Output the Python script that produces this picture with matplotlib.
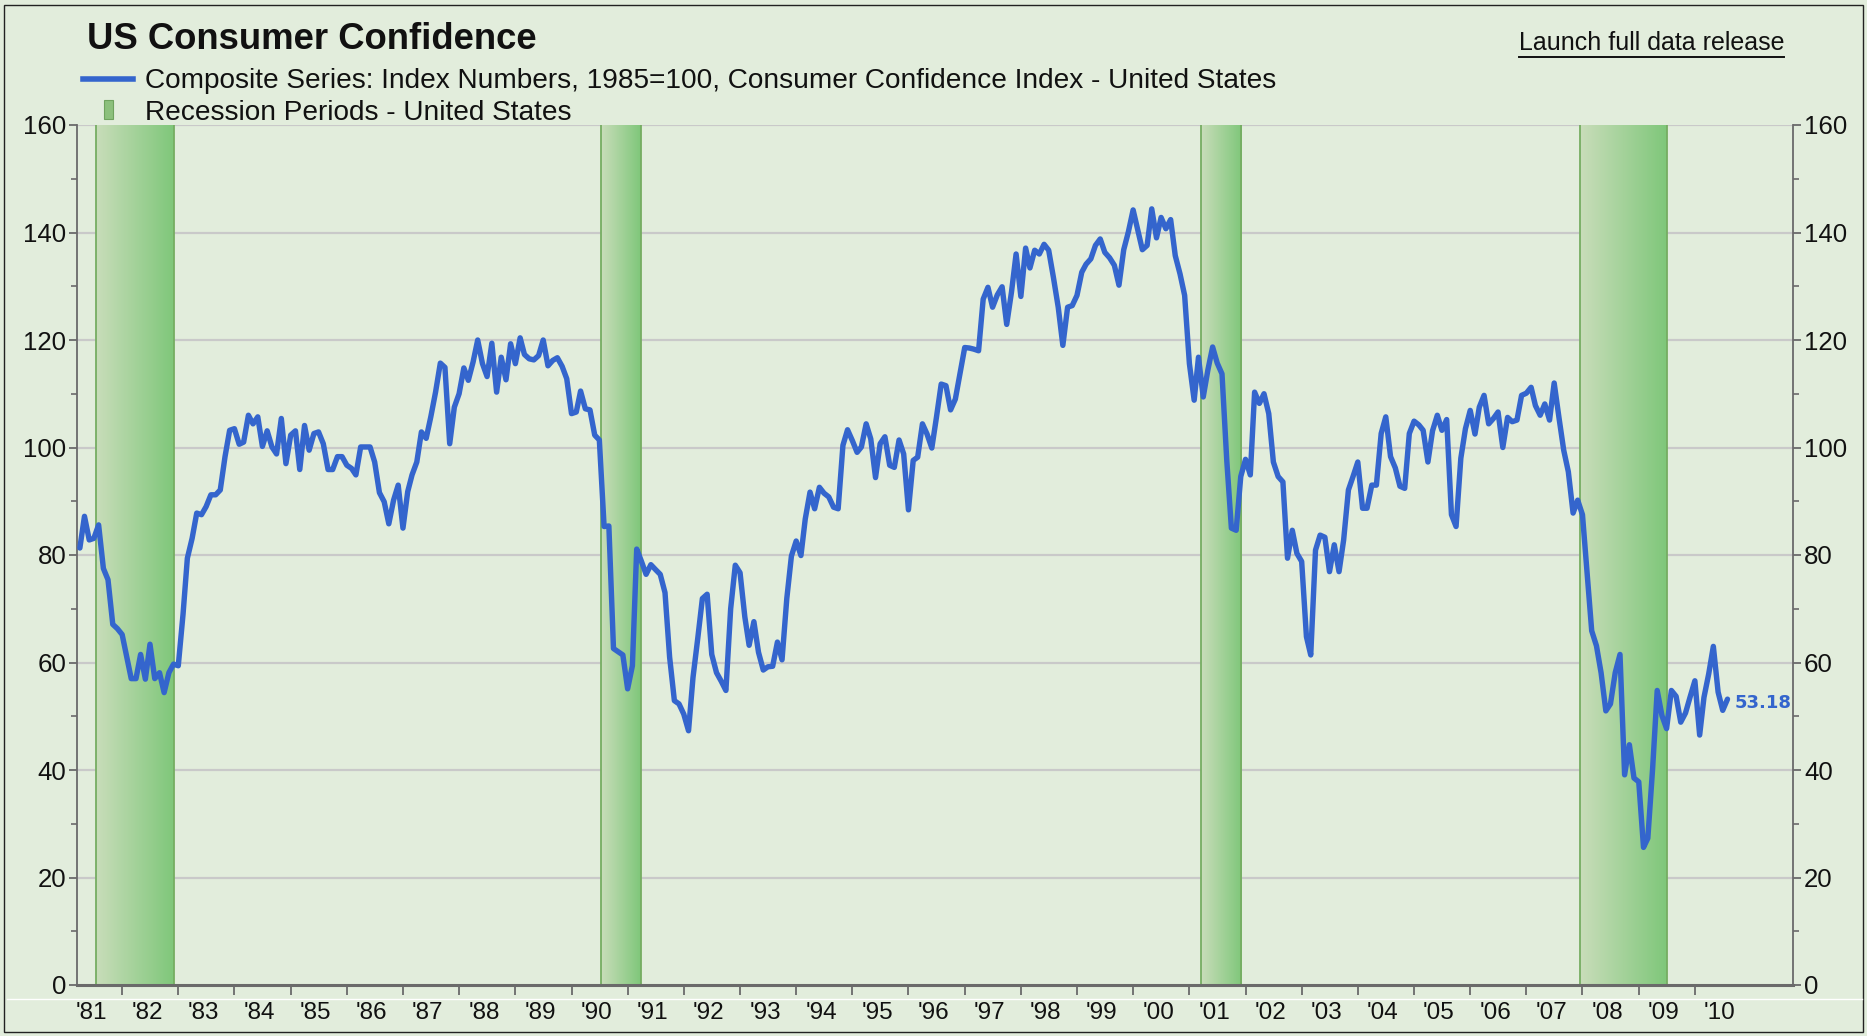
import numpy as np
import pandas as pd
import matplotlib
matplotlib.use("Agg")
import matplotlib.pyplot as plt
import matplotlib.dates as mdates
from matplotlib.colors import LinearSegmentedColormap
from matplotlib.patches import Rectangle
from matplotlib.lines import Line2D
from matplotlib.ticker import FixedLocator, FixedFormatter, MultipleLocator

plt.rcParams['font.family'] = ['Liberation Sans', 'DejaVu Sans']

# ---------------- data ----------------
title = "US Consumer Confidence"
series_label = "Composite Series: Index Numbers, 1985=100, Consumer Confidence Index - United States"
recession_label = "Recession Periods - United States"
link_label = "Launch full data release"

first_month = "1981-04-01"   # monthly values from here
confidence = [
    81.3, 87.2, 82.8, 83.1, 85.6, 77.5, 75.4, 67.1, 66.3, 65.2, 60.9, 57.0,
    57.0, 61.5, 56.9, 63.4, 57.0, 58.1, 54.4, 58.1, 59.7, 59.4, 69.0, 79.4,
    83.1, 87.8, 87.5, 89.0, 91.2, 91.2, 92.1, 98.3, 103.2, 103.5, 100.6, 101.0,
    106.0, 104.4, 105.7, 100.2, 103.1, 100.1, 98.8, 105.4, 97.0, 102.3, 103.1, 95.9,
    104.1, 99.5, 102.6, 102.9, 100.7, 95.9, 95.9, 98.3, 98.3, 96.7, 96.1, 94.9,
    100.1, 100.1, 100.1, 97.3, 91.6, 89.9, 85.8, 90.2, 93.0, 85.0, 91.8, 94.9,
    97.3, 102.9, 101.7, 105.7, 110.3, 115.7, 114.9, 100.7, 107.5, 110.0, 114.8, 112.5,
    115.9, 120.0, 115.6, 113.2, 119.4, 110.3, 116.8, 112.6, 119.3, 115.6, 120.4, 117.3,
    116.5, 116.3, 117.1, 120.0, 115.2, 116.2, 116.7, 115.1, 112.8, 106.3, 106.6, 110.5,
    107.2, 107.0, 102.3, 101.4, 85.3, 85.4, 62.6, 62.0, 61.4, 55.1, 59.4, 81.1,
    78.8, 76.4, 78.2, 77.3, 76.4, 73.0, 61.0, 52.9, 52.3, 50.4, 47.3, 57.2,
    64.5, 71.9, 72.7, 61.5, 58.1, 56.5, 54.8, 70.0, 78.1, 76.7, 68.5, 63.2,
    67.6, 61.9, 58.6, 59.2, 59.3, 63.8, 60.5, 71.9, 79.8, 82.6, 79.9, 86.7,
    91.7, 88.6, 92.6, 91.5, 90.8, 88.9, 88.6, 100.4, 103.3, 101.3, 99.1, 100.1,
    104.4, 101.6, 94.4, 100.7, 102.0, 96.7, 96.3, 101.4, 98.8, 88.4, 97.6, 98.2,
    104.4, 102.5, 99.9, 105.6, 111.8, 111.5, 107.0, 109.0, 113.7, 118.6, 118.5, 118.3,
    118.0, 127.6, 129.8, 126.1, 128.4, 129.9, 122.9, 128.9, 136.0, 128.1, 137.1, 133.4,
    136.7, 136.0, 137.8, 136.7, 131.6, 126.1, 119.0, 126.1, 126.4, 128.3, 132.6, 134.1,
    135.1, 137.6, 138.8, 136.3, 135.3, 133.9, 130.2, 136.8, 140.1, 144.2, 140.4, 136.8,
    137.6, 144.4, 139.0, 142.8, 140.7, 142.4, 135.7, 132.3, 128.3, 115.6, 108.8, 116.8,
    109.4, 114.4, 118.7, 115.7, 113.7, 97.6, 85.0, 84.6, 94.6, 97.8, 94.9, 110.3,
    108.2, 110.0, 106.3, 97.3, 94.6, 93.6, 79.4, 84.6, 80.3, 78.8, 64.8, 61.4,
    80.9, 83.7, 83.3, 76.9, 81.9, 76.9, 82.8, 92.1, 94.6, 97.3, 88.7, 88.7,
    93.0, 93.0, 102.6, 105.7, 98.3, 96.2, 92.8, 92.4, 102.6, 104.9, 104.2, 103.2,
    97.3, 103.1, 106.0, 103.2, 105.2, 87.5, 85.3, 98.0, 103.5, 106.9, 102.5, 107.5,
    109.7, 104.4, 105.4, 106.6, 100.0, 105.6, 104.8, 105.1, 109.7, 110.1, 111.2, 107.8,
    106.0, 108.1, 105.1, 112.0, 105.6, 99.5, 95.5, 87.8, 90.2, 87.5, 76.4, 65.9,
    63.1, 58.1, 51.0, 52.3, 58.1, 61.5, 39.1, 44.7, 38.5, 37.8, 25.6, 27.3,
    40.2, 54.8, 50.1, 47.7, 54.8, 53.7, 48.9, 50.6, 53.6, 56.6, 46.5, 53.5,
    57.9, 63.0, 54.5, 51.1, 53.18,
]

recession_starts = ["1981-07-15", "1990-07-15", "2001-03-15", "2007-12-15"]
recession_ends = ["1982-12-01", "1991-04-01", "2001-12-01", "2009-07-01"]

year_labels = ["'81", "'82", "'83", "'84", "'85", "'86", "'87", "'88", "'89", "'90",
               "'91", "'92", "'93", "'94", "'95", "'96", "'97", "'98", "'99", "'00",
               "'01", "'02", "'03", "'04", "'05", "'06", "'07", "'08", "'09", "'10"]
label_years = list(range(1981, 2011))
tick_years = list(range(1982, 2011))
y_ticks = [0, 20, 40, 60, 80, 100, 120, 140, 160]

# ---------------- style ----------------
W, H = 1867, 1036
bg = "#E2EDDC"
line_color = "#3465CD"
grid_color = "#C9C9C9"
axis_color = "#6A6A6A"
band_left = "#C9DDBA"
band_right = "#7FC77A"
band_edge = "#76AD62"

def fx(px):
    return px / W

def fy(py):
    return 1 - py / H

fig = plt.figure(figsize=(W / 100, H / 100), dpi=100)
fig.patch.set_facecolor(bg)

left_px, right_px, top_px, bottom_px = 77.4, 1793, 125, 985
ax = fig.add_axes([fx(left_px), fy(bottom_px), (right_px - left_px) / W, (bottom_px - top_px) / H])
ax.set_facecolor(bg)

dates = pd.date_range(first_month, periods=len(confidence), freq="MS")
xnum = mdates.date2num(dates)

xmin = mdates.date2num(pd.Timestamp("1981-03-16"))
xmax = mdates.date2num(pd.Timestamp("2011-10-01"))

# recession bands with horizontal gradient
cmap = LinearSegmentedColormap.from_list("band", [band_left, band_right])
grad = np.linspace(0, 1, 256).reshape(1, -1)
for s, e in zip(recession_starts, recession_ends):
    x0 = mdates.date2num(pd.Timestamp(s))
    x1 = mdates.date2num(pd.Timestamp(e))
    ax.imshow(grad, extent=[x0, x1, 0, 160], aspect="auto", cmap=cmap,
              zorder=1.5, interpolation="bilinear")
    for xe in (x0, x1):
        ax.plot([xe, xe], [0, 160], color=band_edge, lw=1.3, zorder=1.6)

# series line
ax.plot(xnum, confidence, color=line_color, lw=3.9, zorder=3,
        solid_joinstyle="round", solid_capstyle="round")

ax.set_xlim(xmin, xmax)
ax.set_ylim(0, 160)

# grid
ax.set_axisbelow(True)
for v in y_ticks[1:]:
    ax.axhline(v, color=grid_color, lw=1.6, zorder=0.5)

# spines
ax.spines["top"].set_visible(False)
for side in ("left", "right"):
    ax.spines[side].set_color(axis_color)
    ax.spines[side].set_linewidth(1.3)
ax.spines["bottom"].set_color(axis_color)
ax.spines["bottom"].set_linewidth(2.2)
ax.spines["bottom"].set_zorder(4)

# y axis on both sides
ax.yaxis.set_major_locator(FixedLocator(y_ticks))
ax.yaxis.set_minor_locator(MultipleLocator(10))
ax.tick_params(axis="y", which="major", left=True, right=True, labelleft=True,
               labelright=True, length=6, width=1.3, color=axis_color,
               labelsize=18.6, pad=2, labelcolor="#111111")
ax.tick_params(axis="y", which="minor", left=True, right=True, length=4,
               width=1.2, color=axis_color)

# x axis: ticks at year starts, labels mid-year
tick_pos = [mdates.date2num(pd.Timestamp(f"{y}-01-01")) for y in tick_years]
label_pos = [mdates.date2num(pd.Timestamp(f"{y}-06-12")) for y in label_years]
ax.xaxis.set_major_locator(FixedLocator(tick_pos))
ax.xaxis.set_major_formatter(FixedFormatter([""] * len(tick_pos)))
ax.xaxis.set_minor_locator(FixedLocator(label_pos))
ax.xaxis.set_minor_formatter(FixedFormatter(year_labels))
ax.tick_params(axis="x", which="major", length=7, width=1.3, color=axis_color,
               direction="out")
ax.tick_params(axis="x", which="minor", length=0, labelsize=17.5, pad=12,
               labelcolor="#111111")

# end value label
ax.annotate(f"{confidence[-1]:.2f}", xy=(xnum[-1], confidence[-1]),
            xytext=(7, -4), textcoords="offset pixels", va="center", ha="left",
            color=line_color, fontsize=13, fontweight="bold",
            family=["DejaVu Sans"], zorder=5)

# title and legend
fig.text(fx(87), fy(49), title, fontsize=26.3, fontweight="bold", va="baseline",
         color="#111111")
fig.add_artist(Line2D([fx(83), fx(133)], [fy(78.5), fy(78.5)], color=line_color, lw=4,
                      transform=fig.transFigure))
fig.text(fx(145), fy(80.5), series_label, fontsize=20.2, va="center", color="#111111")
fig.add_artist(Rectangle((fx(104), fy(119)), 9 / W, 19 / H, transform=fig.transFigure,
                         facecolor="#8CC07C", edgecolor="#6FA35E", lw=0.8))
fig.text(fx(145), fy(112.5), recession_label, fontsize=20.2, va="center", color="#111111")

link = fig.text(fx(1784), fy(43), link_label, fontsize=18, va="center", ha="right",
                color="#111111")
fig.canvas.draw()
bb = link.get_window_extent(renderer=fig.canvas.get_renderer())
uy = (bb.y0 - 2) / H
fig.add_artist(Line2D([bb.x0 / W, bb.x1 / W], [uy, uy], color="#111111", lw=1.4,
                      transform=fig.transFigure))

# separator and outer frame
fig.add_artist(Line2D([fx(7), fx(1862)], [fy(999), fy(999)], color="white", lw=1,
                      transform=fig.transFigure))
fig.add_artist(Rectangle((fx(4), fy(1032)), (1863 - 4) / W, (1032 - 5) / H,
                         transform=fig.transFigure, fill=False, edgecolor="#222222",
                         lw=1))

fig.savefig("out.png", dpi=100, facecolor=fig.get_facecolor())
